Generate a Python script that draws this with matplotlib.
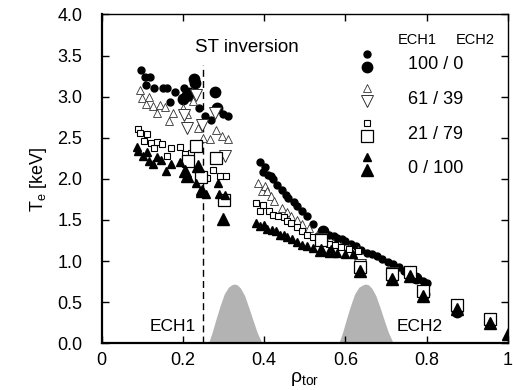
import matplotlib
matplotlib.use("Agg")
from matplotlib import pyplot as plt
import numpy as np

plt.rcParams['font.family'] = ['Liberation Sans', 'DejaVu Sans']
plt.rcParams['mathtext.default'] = 'regular'

# 100 / 0  (small = dense profile, large = sparse profile)
circ_s_x = [0.097, 0.107, 0.110, 0.119, 0.130, 0.151, 0.160, 0.169, 0.181, 0.203, 0.215, 0.220,
            0.240, 0.255, 0.269, 0.299, 0.312,
            0.389, 0.398, 0.403, 0.410, 0.416, 0.422, 0.432, 0.445, 0.453, 0.460, 0.473, 0.482,
            0.494, 0.506, 0.520, 0.543, 0.560, 0.571, 0.580, 0.592, 0.600, 0.613, 0.625, 0.638,
            0.654, 0.665, 0.679, 0.690, 0.704, 0.718, 0.732, 0.745, 0.753, 0.765, 0.780, 0.790, 0.800]
circ_s_y = [3.32, 3.24, 3.14, 3.24, 3.11, 3.10, 3.10, 2.93, 3.06, 3.11, 3.00, 3.04,
            2.86, 2.76, 2.72, 2.79, 2.76,
            2.20, 2.08, 2.14, 2.05, 2.04, 2.00, 1.93, 1.86, 1.80, 1.77, 1.72, 1.67,
            1.61, 1.55, 1.45, 1.37, 1.32, 1.30, 1.28, 1.27, 1.24, 1.21, 1.18, 1.14,
            1.10, 1.09, 1.06, 1.02, 0.99, 0.96, 0.93, 0.88, 0.85, 0.82, 0.78, 0.76, 0.73]
circ_l_x = [0.200, 0.210, 0.214, 0.228, 0.230, 0.280, 0.284,
            0.545, 0.636, 0.716, 0.760, 0.775, 0.793, 0.876, 0.956]
circ_l_y = [2.97, 3.02, 3.05, 3.22, 3.16, 3.06, 2.86,
            1.36, 0.90, 0.79, 0.84, 0.79, 0.60, 0.38, 0.24]

# 61 / 39
tri_s_x = [0.095, 0.100, 0.110, 0.117, 0.126, 0.136, 0.144, 0.156, 0.166, 0.176, 0.200, 0.210,
           0.226, 0.238, 0.250, 0.267, 0.282, 0.296, 0.310,
           0.384, 0.395, 0.403, 0.407, 0.416, 0.425, 0.444, 0.457, 0.467, 0.480, 0.494, 0.510,
           0.530, 0.550, 0.570, 0.590, 0.610, 0.630]
tri_s_y = [3.08, 2.98, 2.91, 3.00, 2.88, 2.80, 2.90, 2.87, 2.70, 2.80, 2.86, 2.79,
           2.95, 2.62, 2.50, 2.48, 2.59, 2.52, 2.48,
           1.95, 1.85, 1.91, 1.85, 1.79, 1.73, 1.65, 1.60, 1.55, 1.50, 1.45, 1.40,
           1.32, 1.27, 1.22, 1.18, 1.16, 1.13]
tri_l_x = [0.204, 0.210, 0.233, 0.247, 0.280, 0.305,
           0.540, 0.636, 0.716, 0.760, 0.790, 0.876, 0.956]
tri_l_y = [2.78, 2.62, 3.02, 2.65, 2.80, 2.28,
           1.27, 0.95, 0.85, 0.86, 0.64, 0.47, 0.28]

# 21 / 79
sq_s_x = [0.089, 0.095, 0.105, 0.111, 0.122, 0.130, 0.136, 0.148, 0.160, 0.171, 0.193, 0.206,
          0.220, 0.247, 0.260, 0.275, 0.292, 0.307,
          0.381, 0.391, 0.397, 0.411, 0.423, 0.435, 0.448, 0.457, 0.467, 0.480, 0.494, 0.506,
          0.520, 0.540, 0.560, 0.575, 0.590, 0.610, 0.630]
sq_s_y = [2.61, 2.56, 2.46, 2.54, 2.43, 2.38, 2.45, 2.42, 2.28, 2.37, 2.39, 2.30,
          2.31, 2.04, 2.01, 2.11, 2.04, 2.04,
          1.70, 1.61, 1.68, 1.61, 1.56, 1.55, 1.53, 1.49, 1.46, 1.41, 1.37, 1.32,
          1.29, 1.24, 1.21, 1.19, 1.17, 1.15, 1.12]
sq_l_x = [0.212, 0.232, 0.245, 0.282, 0.302,
          0.540, 0.636, 0.716, 0.760, 0.790, 0.876, 0.956]
sq_l_y = [2.22, 2.40, 2.02, 2.25, 1.74,
          1.25, 0.93, 0.84, 0.87, 0.63, 0.46, 0.30]

# 0 / 100
ftri_s_x = [0.086, 0.090, 0.102, 0.111, 0.117, 0.127, 0.136, 0.146, 0.158, 0.171, 0.193, 0.232,
            0.243, 0.258, 0.287, 0.290, 0.305,
            0.381, 0.391, 0.399, 0.407, 0.420, 0.430, 0.440, 0.448, 0.457, 0.469, 0.481, 0.494,
            0.505, 0.520, 0.540, 0.560, 0.580, 0.600, 0.620]
ftri_s_y = [2.39, 2.34, 2.28, 2.33, 2.22, 2.18, 2.27, 2.23, 2.09, 2.18, 2.20, 1.95,
            1.85, 1.82, 1.95, 1.82, 1.80,
            1.46, 1.43, 1.44, 1.39, 1.38, 1.36, 1.32, 1.32, 1.29, 1.27, 1.23, 1.20,
            1.18, 1.16, 1.14, 1.12, 1.10, 1.09, 1.08]
ftri_l_x = [0.206, 0.210, 0.237, 0.247, 0.300,
            0.540, 0.565, 0.636, 0.716, 0.760, 0.790, 0.876, 0.956, 1.000]
ftri_l_y = [2.10, 2.04, 2.16, 1.85, 1.51,
            1.13, 1.12, 0.88, 0.78, 0.82, 0.58, 0.42, 0.24, 0.11]

# ECH deposition profiles
ech1_x = [0.263, 0.272, 0.282, 0.292, 0.302, 0.312, 0.320, 0.327, 0.334, 0.342, 0.352, 0.362,
          0.372, 0.383, 0.395]
ech2_x = [0.584, 0.593, 0.603, 0.613, 0.623, 0.633, 0.643, 0.650, 0.657, 0.665, 0.675, 0.685,
          0.695, 0.706, 0.718]
ech_y = [0.00, 0.13, 0.30, 0.46, 0.60, 0.68, 0.71, 0.72, 0.71, 0.67, 0.58, 0.44, 0.29, 0.13, 0.00]

st_inv = 0.25
ratios = ['100 / 0', '61 / 39', '21 / 79', '0 / 100']
xticks = [0, 0.2, 0.4, 0.6, 0.8, 1.0]
xticklabels = ['0', '0.2', '0.4', '0.6', '0.8', '1']
yticks = [0.0, 0.5, 1.0, 1.5, 2.0, 2.5, 3.0, 3.5, 4.0]

fig = plt.figure(figsize=(5.13, 3.9), dpi=100)
ax = fig.add_axes([0.198, 0.12, 0.792, 0.843])

# deposition
ax.fill_between(ech1_x, 0, ech_y, color='#b3b3b3', lw=0)
ax.fill_between(ech2_x, 0, ech_y, color='#b3b3b3', lw=0)
ax.plot([st_inv, st_inv], [0, 3.38], color='black', ls=(0, (5, 3)), lw=1)

# styles: small / large for each case
styles = [
    (dict(marker='o', ms=5, mfc='black', mec='black'), dict(marker='o', ms=7.5, mfc='black', mec='black')),
    (dict(marker='^', ms=5.5, mfc='white', mec='#333333', mew=0.6), dict(marker='v', ms=9, mfc='white', mec='#333333', mew=0.7)),
    (dict(marker='s', ms=5, mfc='white', mec='black', mew=0.8), dict(marker='s', ms=8, mfc='white', mec='black', mew=0.9)),
    (dict(marker='^', ms=5.5, mfc='black', mec='black'), dict(marker='^', ms=9, mfc='black', mec='black')),
]
series = [
    (circ_s_x, circ_s_y, circ_l_x, circ_l_y),
    (tri_s_x, tri_s_y, tri_l_x, tri_l_y),
    (sq_s_x, sq_s_y, sq_l_x, sq_l_y),
    (ftri_s_x, ftri_s_y, ftri_l_x, ftri_l_y),
]
for (sx, sy, lx, ly), (ss, ls_) in zip(series, styles):
    ax.plot(sx, sy, ls='none', **ss)
    ax.plot(lx, ly, ls='none', **ls_)

# hand made legend
ax.text(0.776, 3.69, 'ECH1', ha='center', va='center', fontsize=10.5)
ax.text(0.920, 3.69, 'ECH2', ha='center', va='center', fontsize=10.5)
for i, (lab, (ss, ls_)) in enumerate(zip(ratios, styles)):
    y0 = 3.445 - 0.42 * i
    ax.plot([0.654], [y0 + 0.075], ls='none', **ss)
    ax.plot([0.654], [y0 - 0.08], ls='none', **ls_)
    ax.text(0.823, y0 - 0.06, lab, ha='center', va='center', fontsize=13)

ax.text(0.357, 3.6, 'ST inversion', ha='center', va='center', fontsize=13.5)
ax.text(0.176, 0.2, 'ECH1', ha='center', va='center', fontsize=12.5)
ax.text(0.784, 0.2, 'ECH2', ha='center', va='center', fontsize=12.5)

ax.set_xlim(0, 1.0)
ax.set_ylim(0, 4.0)
ax.set_xticks(xticks)
ax.set_xticklabels(xticklabels)
ax.set_yticks(yticks)
ax.set_yticklabels(['%.1f' % v for v in yticks])
ax.tick_params(direction='in', top=True, right=True, length=5, width=1, labelsize=13)
ax.tick_params(axis='x', pad=6)
ax.tick_params(axis='y', pad=14)
for s in ['left', 'bottom']:
    ax.spines[s].set_linewidth(1.6)
for s in ['top', 'right']:
    ax.spines[s].set_linewidth(1.0)

ax.set_xlabel(r'$\rho_{tor}$', fontsize=14, labelpad=1)
ax.set_ylabel(r'$T_e$ [keV]', fontsize=13, labelpad=6)

fig.savefig('out.png', dpi=100)
